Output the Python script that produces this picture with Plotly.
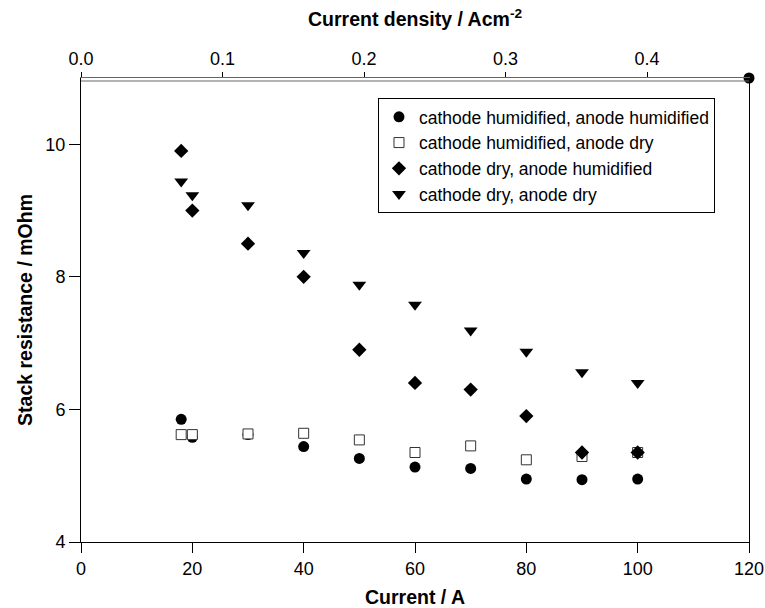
import plotly.graph_objects as go

current = [18, 20, 30, 40, 50, 60, 70, 80, 90, 100]
hum_hum = [5.85, 5.58, 5.62, 5.44, 5.26, 5.13, 5.11, 4.95, 4.94, 4.95]
hum_dry = [5.62, 5.62, 5.63, 5.64, 5.54, 5.35, 5.45, 5.24, 5.29, 5.35]
dry_hum = [9.90, 9.00, 8.50, 8.00, 6.90, 6.40, 6.30, 5.90, 5.35, 5.35]
dry_dry = [9.44, 9.23, 9.08, 8.36, 7.88, 7.58, 7.19, 6.87, 6.56, 6.40]

names = ["cathode humidified, anode humidified",
         "cathode humidified, anode dry",
         "cathode dry, anode humidified",
         "cathode dry, anode dry"]

x_ticks = [0, 20, 40, 60, 80, 100, 120]
y_ticks = [4, 6, 8, 10]
top_ticks = [0.0, 0.1, 0.2, 0.3, 0.4]
x_range = [0, 120]
y_range = [4, 11]
top_range = [0, 0.472]
corner_point = ([120], [11])

FONT = "Liberation Sans, Arial, sans-serif"

fig = go.Figure()
fig.add_trace(go.Scatter(x=current, y=hum_hum, mode="markers", name=names[0],
                         marker=dict(symbol="circle", size=11, color="black")))
fig.add_trace(go.Scatter(x=current, y=hum_dry, mode="markers", name=names[1],
                         marker=dict(symbol="square", size=10, color="white",
                                     line=dict(width=1, color="#333333"))))
fig.add_trace(go.Scatter(x=current, y=dry_hum, mode="markers", name=names[2],
                         marker=dict(symbol="diamond", size=11, color="black")))
fig.add_trace(go.Scatter(x=current, y=dry_dry, mode="markers", name=names[3],
                         marker=dict(symbol="triangle-down", size=12, color="black")))
fig.add_trace(go.Scatter(x=corner_point[0], y=corner_point[1], mode="markers",
                         showlegend=False, cliponaxis=False,
                         marker=dict(symbol="circle", size=11, color="black")))
# invisible trace to activate the top axis
fig.add_trace(go.Scatter(x=top_range, y=[None, None], xaxis="x2", yaxis="y",
                         showlegend=False, hoverinfo="skip", mode="lines"))

fig.update_layout(
    width=765, height=608,
    margin=dict(l=81, r=16, t=78, b=66),
    paper_bgcolor="white", plot_bgcolor="white",
    font=dict(family=FONT, size=18, color="black"),
    showlegend=True,
    legend=dict(x=0.4446, y=0.957, xanchor="left", yanchor="top",
                bordercolor="black", borderwidth=1, bgcolor="white",
                font=dict(family=FONT, size=17.5), tracegroupgap=0,
                itemwidth=30, entrywidth=318, entrywidthmode="pixels"),
    xaxis=dict(range=x_range, tickvals=x_ticks, ticks="outside", ticklen=10,
               tickwidth=1, tickcolor="black", showline=True, linecolor="black",
               linewidth=1, showgrid=False, zeroline=False, automargin=False,
               title=dict(text="<b>Current / A</b>", font=dict(size=19.5), standoff=12),
               tickfont=dict(size=18)),
    yaxis=dict(range=y_range, tickvals=y_ticks, ticks="outside", ticklen=11,
               tickwidth=1, tickcolor="black", showline=True, linecolor="black",
               linewidth=1, mirror=True, showgrid=False, zeroline=False, automargin=False,
               title=dict(text="<b>Stack resistance / mOhm</b>", font=dict(size=19.5), standoff=7),
               tickfont=dict(size=18)),
    xaxis2=dict(range=top_range, tickvals=top_ticks, tickformat=".1f",
                overlaying="x", side="top", anchor="y",
                ticks="outside", ticklen=5, tickwidth=1, tickcolor="black",
                showline=True, linecolor="#666666", linewidth=1, automargin=False,
                showgrid=False, zeroline=False,
                title=dict(text="<b>Current density / Acm<sup>-2</sup></b>",
                           font=dict(size=19.5), standoff=16),
                tickfont=dict(size=18)),
)
# second line of the double top border
fig.add_shape(type="line", xref="paper", yref="paper", x0=0, x1=1,
              y0=1 - 3 / 464, y1=1 - 3 / 464, line=dict(color="#666666", width=1))

fig.write_html("out.html")
